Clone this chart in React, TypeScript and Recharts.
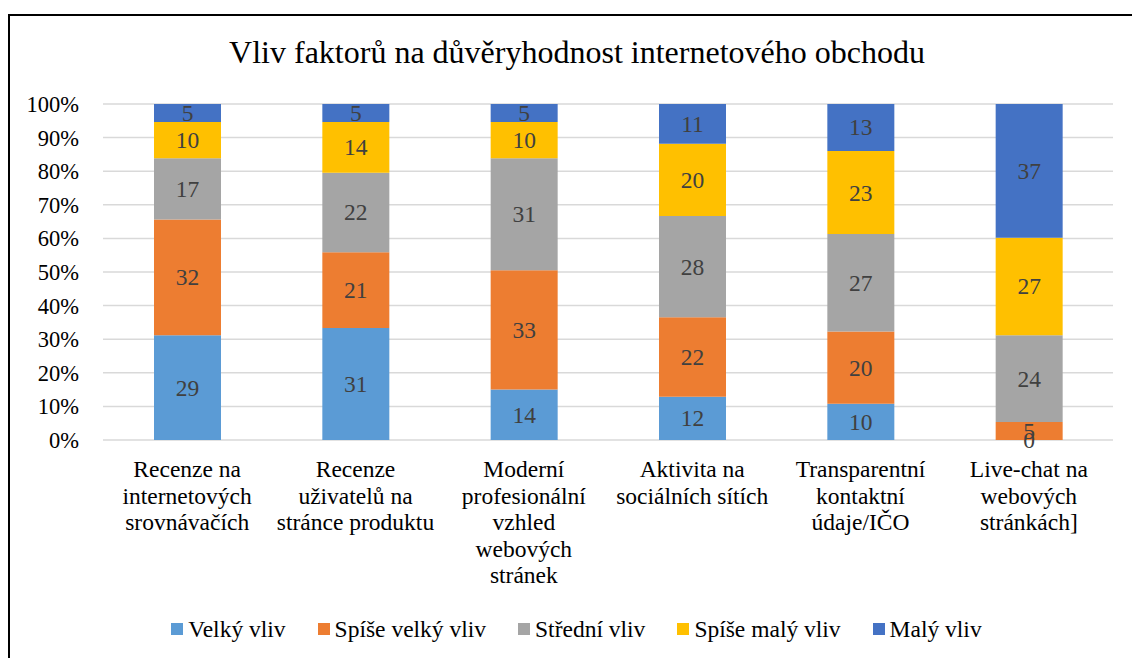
import React from "react";
import { BarChart, Bar, XAxis, YAxis, CartesianGrid, LabelList, Legend } from "recharts";

const categories = [
  "Recenze na internetových srovnávačích",
  "Recenze uživatelů na stránce produktu",
  "Moderní profesionální vzhled webových stránek",
  "Aktivita na sociálních sítích",
  "Transparentní kontaktní údaje/IČO",
  "Live-chat na webových stránkách]",
];
const categoryLines = [
  ["Recenze na", "internetových", "srovnávačích"],
  ["Recenze", "uživatelů na", "stránce produktu"],
  ["Moderní", "profesionální", "vzhled", "webových", "stránek"],
  ["Aktivita na", "sociálních sítích"],
  ["Transparentní", "kontaktní", "údaje/IČO"],
  ["Live-chat na", "webových", "stránkách]"],
];
const velkyVliv = [29, 31, 14, 12, 10, 0];
const spiseVelkyVliv = [32, 21, 33, 22, 20, 5];
const stredniVliv = [17, 22, 31, 28, 27, 24];
const spiseMalyVliv = [10, 14, 10, 20, 23, 27];
const malyVliv = [5, 5, 5, 11, 13, 37];
const yTicks = [0, 0.1, 0.2, 0.3, 0.4, 0.5, 0.6, 0.7, 0.8, 0.9, 1];

const seriesDefs = [
  { key: "velky", name: "Velký vliv", color: "#5B9BD5", values: velkyVliv },
  { key: "spiseVelky", name: "Spíše velký vliv", color: "#ED7D31", values: spiseVelkyVliv },
  { key: "stredni", name: "Střední vliv", color: "#A5A5A5", values: stredniVliv },
  { key: "spiseMaly", name: "Spíše malý vliv", color: "#FFC000", values: spiseMalyVliv },
  { key: "maly", name: "Malý vliv", color: "#4472C4", values: malyVliv },
];

const data = categories.map((c, i) => {
  const row: any = { name: c };
  seriesDefs.forEach((s) => {
    row[s.key] = s.values[i];
  });
  return row;
});

const FONT = "'Liberation Serif', 'Times New Roman', serif";
const FS = 23.5;

const CategoryTick = (props: any) => {
  const { x, y, index } = props;
  const lines = categoryLines[index] || [];
  return (
    <text x={x} y={y} textAnchor="middle" style={{ fontFamily: FONT, fontSize: FS }} fill="#000">
      {lines.map((l, i) => (
        <tspan key={i} x={x} dy={i === 0 ? 37 : 26.5}>
          {l}
        </tspan>
      ))}
    </text>
  );
};

const labelStyle = { fontFamily: FONT, fontSize: FS };

// Segment label; the series directly above a zero-valued bottom segment
// also draws that zero value at the baseline (Recharts skips zero-height rects).
const makeSegmentLabel = (belowValues: number[] | null) => (props: any) => {
  const { x, y, width, height, value, index } = props;
  if (value == null || x == null || y == null) return null;
  const cx = Number(x) + Number(width) / 2;
  const out = [
    <text
      key="v"
      x={cx}
      y={Number(y) + Number(height) / 2}
      textAnchor="middle"
      dominantBaseline="central"
      fill="#404040"
      style={labelStyle}
    >
      {value}
    </text>,
  ];
  if (belowValues && belowValues[index] === 0) {
    out.push(
      <text
        key="z"
        x={cx}
        y={Number(y) + Number(height)}
        textAnchor="middle"
        dominantBaseline="central"
        fill="#404040"
        style={labelStyle}
      >
        {belowValues[index]}
      </text>
    );
  }
  return <g>{out}</g>;
};

const LegendContent = () => (
  <div
    style={{
      display: "flex",
      justifyContent: "center",
      alignItems: "center",
      paddingLeft: 21,
      fontFamily: FONT,
      fontSize: FS,
      color: "#000",
    }}
  >
    {seriesDefs.map((s, i) => (
      <div
        key={s.key}
        style={{
          display: "flex",
          alignItems: "center",
          marginRight: i === seriesDefs.length - 1 ? 0 : 32,
        }}
      >
        <div style={{ width: 12, height: 12, background: s.color, marginRight: 5 }} />
        <span style={{ lineHeight: "22px", whiteSpace: "nowrap", fontFamily: FONT }}>{s.name}</span>
      </div>
    ))}
  </div>
);

export default function App() {
  return (
    <div
      style={{
        position: "fixed",
        left: 0,
        top: 0,
        width: 1132,
        height: 658,
        overflow: "hidden",
        background: "#fff",
        fontFamily: FONT,
      }}
    >
      <div
        style={{
          position: "absolute",
          left: 8,
          top: 14,
          width: 1140,
          height: 700,
          border: "2px solid #000",
          boxSizing: "border-box",
        }}
      />
      <div
        style={{
          position: "absolute",
          left: 22,
          top: 36,
          width: 1110,
          textAlign: "center",
          fontFamily: FONT,
          fontSize: 32,
          lineHeight: "32px",
          color: "#000",
          whiteSpace: "nowrap",
        }}
      >
        Vliv faktorů na důvěryhodnost internetového obchodu
      </div>
      <div style={{ position: "absolute", left: 0, top: 0 }}>
        <BarChart
          width={1132}
          height={658}
          data={data}
          stackOffset="expand"
          margin={{ top: 104, right: 19, bottom: 0, left: 0 }}
          barSize={67}
        >
          <CartesianGrid vertical={false} stroke="#D9D9D9" strokeWidth={1.5} />
          <XAxis
            dataKey="name"
            height={218}
            tickLine={false}
            axisLine={false}
            tickSize={0}
            tickMargin={0}
            interval={0}
            tick={<CategoryTick />}
          />
          <YAxis
            width={103}
            domain={[0, 1]}
            ticks={yTicks}
            tickFormatter={(v: number) => `${Math.round(v * 100)}%`}
            tickLine={false}
            axisLine={false}
            tickSize={0}
            tickMargin={24}
            tick={{ fontFamily: FONT, fontSize: 22.5, fill: "#000" }}
          />
          <Legend
            layout="horizontal"
            verticalAlign="middle"
            align="center"
            wrapperStyle={{ top: 618, left: 0, width: 1132 }}
            content={<LegendContent />}
          />
          {seriesDefs.map((s, si) => (
            <Bar
              key={s.key}
              dataKey={s.key}
              name={s.name}
              stackId="a"
              fill={s.color}
              isAnimationActive={false}
            >
              <LabelList
                dataKey={s.key}
                content={makeSegmentLabel(si > 0 ? seriesDefs[si - 1].values : null)}
              />
            </Bar>
          ))}
        </BarChart>
      </div>
    </div>
  );
}
